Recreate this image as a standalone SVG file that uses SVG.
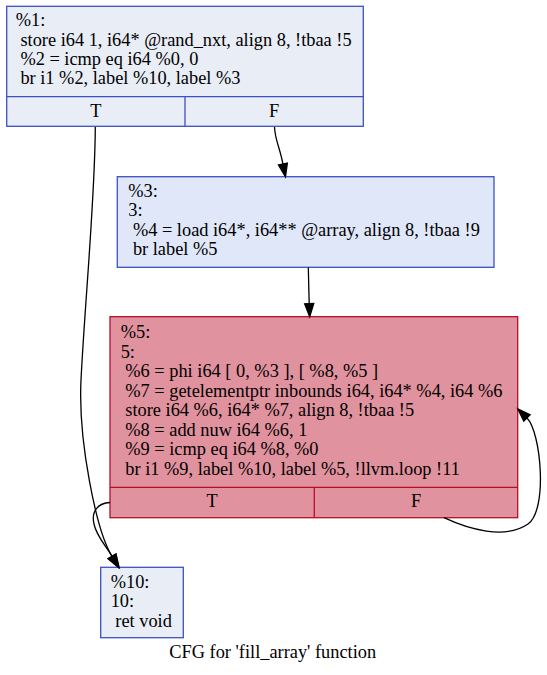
<svg xmlns="http://www.w3.org/2000/svg" width="547" height="675" viewBox="0 0 547 675">
<style>
text { font-family: "Liberation Serif", "Times New Roman", serif; font-size: 18.35px; fill: #000; }
.mid { text-anchor: middle; }
.blue { stroke: #3d50c3; stroke-width: 1.3; }
.red { stroke: #b70d28; stroke-width: 1.3; }
.edge { fill: none; stroke: #000; stroke-width: 1.3; }
.arrow { fill: #000; stroke: #000; stroke-width: 1.3; }
</style>
<rect width="547" height="675" fill="#ffffff"/>
<g id="node1">
  <rect class="blue" x="6.7" y="6.3" width="356.6" height="120" fill="#e8edf6"/>
  <line class="blue" x1="6.7" y1="96.7" x2="363.3" y2="96.7"/>
  <line class="blue" x1="185" y1="96.7" x2="185" y2="126.3"/>
  <text x="15.8" y="26.2">%1:</text>
  <text x="20.4" y="45.6">store i64 1, i64* @rand_nxt, align 8, !tbaa !5</text>
  <text x="20.4" y="65">%2 = icmp eq i64 %0, 0</text>
  <text x="20.4" y="84.4">br i1 %2, label %10, label %3</text>
  <text class="mid" x="95.85" y="116.5">T</text>
  <text class="mid" x="274.15" y="116.5">F</text>
</g>
<g id="node3">
  <rect class="blue" x="117.3" y="176.7" width="376.7" height="90.6" fill="#dfe7f9"/>
  <text x="128.3" y="196.5">%3:</text>
  <text x="128.3" y="216">3:</text>
  <text x="132.9" y="235.5">%4 = load i64*, i64** @array, align 8, !tbaa !9</text>
  <text x="132.9" y="255">br label %5</text>
</g>
<g id="node5">
  <rect class="red" x="110" y="316.7" width="407.7" height="201" fill="#e0929e"/>
  <line class="red" x1="110" y1="487.3" x2="517.7" y2="487.3"/>
  <line class="red" x1="314.3" y1="487.3" x2="314.3" y2="517.7"/>
  <text x="120.7" y="338.2">%5:</text>
  <text x="120.7" y="357.7">5:</text>
  <text x="125.3" y="377.2">%6 = phi i64 [ 0, %3 ], [ %8, %5 ]</text>
  <text x="125.3" y="396.7">%7 = getelementptr inbounds i64, i64* %4, i64 %6</text>
  <text x="125.3" y="416.2">store i64 %6, i64* %7, align 8, !tbaa !5</text>
  <text x="125.3" y="435.7">%8 = add nuw i64 %6, 1</text>
  <text x="125.3" y="455.2">%9 = icmp eq i64 %8, %0</text>
  <text x="125.3" y="474.7">br i1 %9, label %10, label %5, !llvm.loop !11</text>
  <text class="mid" x="212.15" y="507.3">T</text>
  <text class="mid" x="416" y="507.3">F</text>
</g>
<g id="node10">
  <rect class="blue" x="100.7" y="567.3" width="82.6" height="70.4" fill="#e8edf6"/>
  <text x="110.7" y="587.5">%10:</text>
  <text x="110.7" y="607">10:</text>
  <text x="115.3" y="626.5">ret void</text>
</g>
<g id="edges">
  <path class="edge" d="M95.3,127 C95,200 85,300 81,380 C78,440 96.2,531 112.1,556.45"/>
  <polygon class="arrow" points="115.97,554.04 119.2,567.5 108.23,558.86"/>
  <path class="edge" d="M110,502.5 C98,503 91,511 94,524 C96.5,536 104,543 112,556.24"/>
  <polygon class="arrow" points="115.94,553.97 118.5,567.5 108.06,558.52"/>
  <path class="edge" d="M274.5,127 C275,140 280,148 282.9,163.96"/>
  <polygon class="arrow" points="287.36,163.05 285.5,176.7 278.44,164.87"/>
  <path class="edge" d="M308.3,267.5 C308.6,280 309,292 309.2,303.7"/>
  <polygon class="arrow" points="313.75,303.53 309.7,316.7 304.65,303.87"/>
  <path class="edge" d="M444,517.7 C468,529 505,540 528,524 C548,510 541,432 527,418"/>
  <polygon class="arrow" points="530.22,414.78 517.8,408.8 523.78,421.22"/>
</g>
<text class="mid" x="272.7" y="658.3">CFG for 'fill_array' function</text>
</svg>
